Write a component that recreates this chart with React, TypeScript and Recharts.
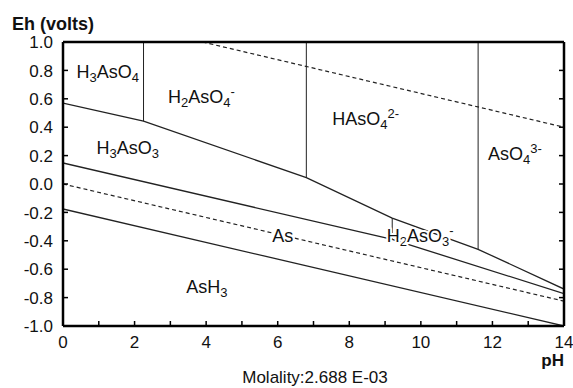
import { LineChart, Line, XAxis, YAxis, ReferenceDot } from 'recharts';

const FONT = '"Liberation Sans", Arial, Helvetica, sans-serif';
const INK = '#111';

const phTicks = [0, 1, 2, 3, 4, 5, 6, 7, 8, 9, 10, 11, 12, 13, 14];
const ehTicks = [-1.0, -0.8, -0.6, -0.4, -0.2, 0.0, 0.2, 0.4, 0.6, 0.8, 1.0];

// water stability limits (dashed)
const o2Limit = [
  { pH: 3.9, Eh: 1.0 },
  { pH: 14, Eh: 0.4 },
];
const h2Limit = [
  { pH: 0, Eh: 0.0 },
  { pH: 14, Eh: -0.825 },
];

// As(V) / As(III)
const asVtoAsIII = [
  { pH: 0, Eh: 0.57 },
  { pH: 2.25, Eh: 0.443 },
  { pH: 6.8, Eh: 0.045 },
  { pH: 9.2, Eh: -0.24 },
  { pH: 11.6, Eh: -0.46 },
  { pH: 14, Eh: -0.74 },
];
// As(III) / As
const asIIItoAs = [
  { pH: 0, Eh: 0.148 },
  { pH: 9.2, Eh: -0.39 },
  { pH: 14, Eh: -0.772 },
];
// As / AsH3
const asToAsH3 = [
  { pH: 0, Eh: -0.176 },
  { pH: 14, Eh: -1.0 },
];

// acid-base splits (vertical)
const pkaLines = [
  [{ pH: 2.25, Eh: 1.0 }, { pH: 2.25, Eh: 0.443 }],
  [{ pH: 6.8, Eh: 1.0 }, { pH: 6.8, Eh: 0.045 }],
  [{ pH: 11.6, Eh: 1.0 }, { pH: 11.6, Eh: -0.46 }],
  [{ pH: 9.2, Eh: -0.24 }, { pH: 9.2, Eh: -0.39 }],
];

type Part = [string, 'n' | 'sub' | 'sup'];
const speciesLabels: { pH: number; Eh: number; parts: Part[]; halo?: boolean }[] = [
  { pH: 1.25, Eh: 0.79, parts: [['H', 'n'], ['3', 'sub'], ['AsO', 'n'], ['4', 'sub']] },
  { pH: 3.87, Eh: 0.615, parts: [['H', 'n'], ['2', 'sub'], ['AsO', 'n'], ['4', 'sub'], ['-', 'sup']] },
  { pH: 8.46, Eh: 0.46, parts: [['HAsO', 'n'], ['4', 'sub'], ['2-', 'sup']] },
  { pH: 12.63, Eh: 0.213, parts: [['AsO', 'n'], ['4', 'sub'], ['3-', 'sup']] },
  { pH: 1.81, Eh: 0.252, parts: [['H', 'n'], ['3', 'sub'], ['AsO', 'n'], ['3', 'sub']] },
  { pH: 6.14, Eh: -0.364, parts: [['As', 'n']], halo: true },
  { pH: 9.98, Eh: -0.364, parts: [['H', 'n'], ['2', 'sub'], ['AsO', 'n'], ['3', 'sub'], ['-', 'sup']], halo: true },
  { pH: 4.02, Eh: -0.728, parts: [['AsH', 'n'], ['3', 'sub']] },
];

const Formula = ({ cx, cy, parts, halo }: any) => {
  let level = 0;
  const spans = parts.map(([t, k]: Part, i: number) => {
    const target = k === 'sub' ? 4 : k === 'sup' ? -7 : 0;
    const dy = target - level;
    level = target;
    return (
      <tspan key={i} dy={dy} fontSize={k === 'n' ? 18 : 13}>
        {t}
      </tspan>
    );
  });
  return (
    <text
      x={cx}
      y={cy + 6}
      textAnchor="middle"
      fontFamily={FONT}
      fill={INK}
      stroke={halo ? '#fff' : 'none'}
      strokeWidth={halo ? 4 : 0}
      strokeLinejoin="round"
      paintOrder="stroke"
    >
      {spans}
    </text>
  );
};

const TICK = 5;
const GAP = 10;

// ticks point into the plot, so each tick renderer draws its own mark
const BottomTick = ({ x, y, payload }: any) => (
  <g>
    <path d={`M${x},${y - GAP}V${y - GAP - TICK}`} stroke="#000" strokeWidth={1.5} fill="none" />
    {payload.value % 2 === 0 && (
      <text x={x} y={y} dy="0.71em" textAnchor="middle" fontSize={17} fontFamily={FONT} fill={INK}>
        {payload.value}
      </text>
    )}
  </g>
);
const TopTick = ({ x, y }: any) => (
  <path d={`M${x},${y + GAP}V${y + GAP + TICK}`} stroke="#000" strokeWidth={1.5} fill="none" />
);
const LeftTick = ({ x, y, payload }: any) => (
  <g>
    <path d={`M${x + GAP},${y}H${x + GAP + TICK}`} stroke="#000" strokeWidth={1.5} fill="none" />
    <text x={x} y={y} dy="0.36em" textAnchor="end" fontSize={17} fontFamily={FONT} fill={INK}>
      {payload.value.toFixed(1)}
    </text>
  </g>
);
const RightTick = ({ x, y }: any) => (
  <path d={`M${x - GAP},${y}H${x - GAP - TICK}`} stroke="#000" strokeWidth={1.5} fill="none" />
);

const frame = { stroke: '#000', strokeWidth: 2.5 };

export default function App() {
  return (
    <div style={{ position: 'fixed', left: 0, top: 0, width: 573, height: 388, background: '#fff' }}>
      <LineChart width={573} height={388} margin={{ top: 41, right: 8, left: 0, bottom: 32 }}>
        <XAxis
          dataKey="pH"
          type="number"
          domain={[0, 14]}
          ticks={phTicks}
          interval={0}
          allowDataOverflow
          height={30}
          tickSize={0}
          tickMargin={GAP}
          axisLine={frame}
          tickLine={false}
          tick={BottomTick}
        />
        <XAxis
          xAxisId="top"
          orientation="top"
          type="number"
          domain={[0, 14]}
          ticks={phTicks}
          interval={0}
          allowDataOverflow
          height={1}
          tickSize={0}
          tickMargin={GAP}
          axisLine={frame}
          tickLine={false}
          tick={TopTick}
        />
        <YAxis
          type="number"
          domain={[-1, 1]}
          ticks={ehTicks}
          interval={0}
          allowDataOverflow
          width={63}
          tickSize={0}
          tickMargin={GAP}
          axisLine={frame}
          tickLine={false}
          tick={LeftTick}
        />
        <YAxis
          yAxisId="right"
          orientation="right"
          type="number"
          domain={[-1, 1]}
          ticks={ehTicks}
          interval={0}
          allowDataOverflow
          width={1}
          tickSize={0}
          tickMargin={GAP}
          axisLine={frame}
          tickLine={false}
          tick={RightTick}
        />
        <Line data={o2Limit} dataKey="Eh" stroke="#222" strokeWidth={1.2} strokeDasharray="4 3" dot={false} isAnimationActive={false} />
        <Line data={h2Limit} dataKey="Eh" stroke="#222" strokeWidth={1.2} strokeDasharray="4 3" dot={false} isAnimationActive={false} />
        <Line data={asVtoAsIII} dataKey="Eh" stroke="#222" strokeWidth={1.3} dot={false} isAnimationActive={false} />
        <Line data={asIIItoAs} dataKey="Eh" stroke="#222" strokeWidth={1.3} dot={false} isAnimationActive={false} />
        <Line data={asToAsH3} dataKey="Eh" stroke="#222" strokeWidth={1.3} dot={false} isAnimationActive={false} />
        {pkaLines.map((seg, i) => (
          <Line key={i} data={seg} dataKey="Eh" stroke="#222" strokeWidth={1} dot={false} isAnimationActive={false} />
        ))}
        {speciesLabels.map((l, i) => (
          <ReferenceDot
            key={i}
            x={l.pH}
            y={l.Eh}
            r={0}
            shape={(p: any) => <Formula cx={p.cx} cy={p.cy} parts={l.parts} halo={l.halo} />}
          />
        ))}
      </LineChart>
      <svg width={573} height={388} style={{ position: 'absolute', left: 0, top: 0, pointerEvents: 'none' }}>
        <text x={12} y={30} fontSize={18} fontWeight="bold" fontFamily={FONT} fill={INK}>
          Eh (volts)
        </text>
        <text x={564} y={366} textAnchor="end" fontSize={17} fontWeight="bold" fontFamily={FONT} fill={INK}>
          pH
        </text>
        <text x={315} y={383} textAnchor="middle" fontSize={17} fontFamily={FONT} fill={INK}>
          Molality:2.688 E-03
        </text>
      </svg>
    </div>
  );
}
